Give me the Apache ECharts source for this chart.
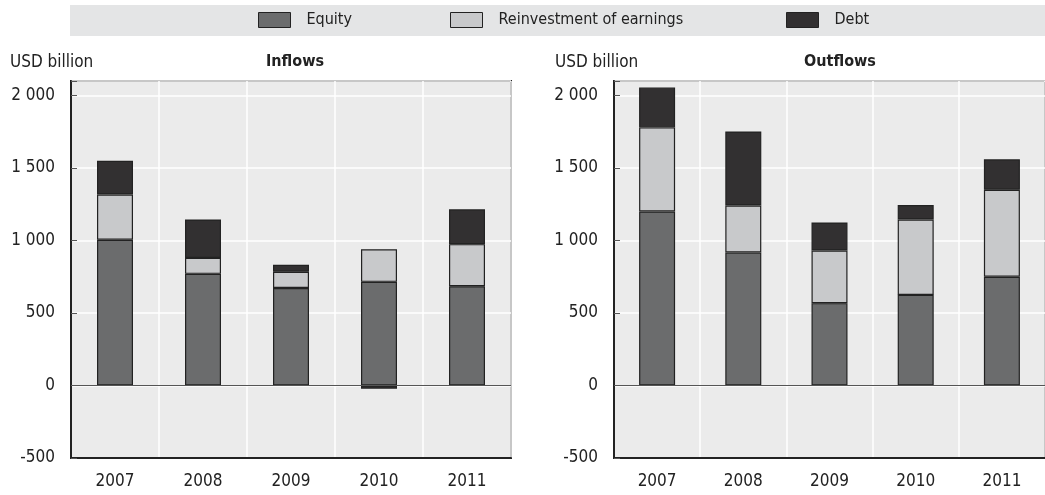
<!DOCTYPE html>
<html>
<head>
<meta charset="utf-8">
<script src="https://cdn.jsdelivr.net/npm/echarts@6/dist/echarts.min.js"></script>
<style>
  html, body { margin: 0; padding: 0; background: #fff; }
  #chart { width: 1045px; height: 495px; }
</style>
</head>
<body>
<div id="chart"></div>
<script>
// data (USD billion)
const years = ['2007', '2008', '2009', '2010', '2011']
const inEquity = [1005, 770, 672, 715, 685]
const inReinvest = [312, 110, 112, 225, 290]
const inDebt = [233, 265, 48, -22, 240]
const outEquity = [1200, 917, 568, 625, 750]
const outReinvest = [580, 324, 363, 520, 600]
const outDebt = [275, 511, 193, 100, 210]
const yTicks = [-500, 0, 500, 1000, 1500, 2000]

const FONT = "'DejaVu Sans Condensed', 'Liberation Sans Narrow', sans-serif"
const C_EQ = '#6b6c6d'
const C_RE = '#c8c9cb'
const C_DEBT = '#323031'

const chart = echarts.init(document.getElementById('chart'))

// "2 000" style labels, only on the round ticks
function fmt(v) {
  if (!yTicks.includes(v)) return ''
  const s = String(Math.abs(v)).replace(/\B(?=(\d{3})+(?!\d))/g, ' ')
  return (v < 0 ? '-' : '') + s
}

function xAx(i) {
  return {
    type: 'category',
    gridIndex: i,
    data: years,
    axisLine: { onZero: false, lineStyle: { color: '#222', width: 2 } },
    axisTick: { inside: true, length: 6, lineStyle: { color: '#444' } },
    splitLine: { show: true, lineStyle: { color: '#fff', width: 1.5 } },
    axisLabel: { color: '#222', fontFamily: FONT, fontSize: 17, margin: 15 }
  }
}

function yAx(i) {
  return {
    type: 'value',
    gridIndex: i,
    min: -500,
    max: 2100,
    interval: 500,
    axisLine: { show: true, lineStyle: { color: '#222', width: 2 } },
    axisTick: { show: true, inside: true, length: 6, lineStyle: { color: '#555' } },
    splitLine: { lineStyle: { color: '#fff', width: 1.5 } },
    axisLabel: { color: '#222', fontFamily: FONT, fontSize: 17, margin: 16, formatter: fmt }
  }
}

function bar(name, data, color, i, zero) {
  const s = {
    name: name,
    type: 'bar',
    stack: 'p' + i,
    xAxisIndex: i,
    yAxisIndex: i,
    data: data,
    barWidth: 36,
    itemStyle: { color: color, borderColor: '#222', borderWidth: 1.2 }
  }
  if (zero) {
    s.markLine = {
      silent: true,
      symbol: 'none',
      label: { show: false },
      lineStyle: { color: '#555', width: 1, type: 'solid' },
      data: [{ yAxis: 0 }]
    }
  }
  return s
}

function legend(name, left) {
  return {
    data: [name],
    left: left,
    top: 7,
    icon: 'rect',
    itemWidth: 32,
    itemHeight: 15,
    itemStyle: { borderColor: '#222', borderWidth: 1 },
    textStyle: { color: '#222', fontFamily: FONT, fontSize: 16, padding: [0, 0, 0, 11] }
  }
}

const option = {
  animation: false,
  graphic: [
    { type: 'rect', left: 70, top: 5, shape: { width: 975, height: 31 }, style: { fill: '#e4e5e6' }, z: -1 },
    { type: 'text', left: 10, top: 54, style: { text: 'USD billion', fontFamily: FONT, fontSize: 17, fill: '#222' } },
    { type: 'text', left: 555, top: 54, style: { text: 'USD billion', fontFamily: FONT, fontSize: 17, fill: '#222' } }
  ],
  title: [
    { text: 'Inflows', left: 290, top: 49, textAlign: 'center',
      textStyle: { fontFamily: FONT, fontSize: 16, fontWeight: 'bold', color: '#222' } },
    { text: 'Outflows', left: 835, top: 49, textAlign: 'center',
      textStyle: { fontFamily: FONT, fontSize: 16, fontWeight: 'bold', color: '#222' } }
  ],
  legend: [
    legend('Equity', 253),
    legend('Reinvestment of earnings', 445),
    legend('Debt', 781)
  ],
  grid: [
    { left: 71, top: 81, width: 440, height: 377, show: true, backgroundColor: '#ebebeb', borderColor: '#222', borderWidth: 2 },
    { left: 614, top: 81, width: 440, height: 377, show: true, backgroundColor: '#ebebeb', borderColor: '#222', borderWidth: 2 }
  ],
  xAxis: [xAx(0), xAx(1)],
  yAxis: [yAx(0), yAx(1)],
  series: [
    bar('Equity', inEquity, C_EQ, 0, true),
    bar('Reinvestment of earnings', inReinvest, C_RE, 0),
    bar('Debt', inDebt, C_DEBT, 0),
    bar('Equity', outEquity, C_EQ, 1, true),
    bar('Reinvestment of earnings', outReinvest, C_RE, 1),
    bar('Debt', outDebt, C_DEBT, 1)
  ]
}

chart.setOption(option)
</script>
</body>
</html>
